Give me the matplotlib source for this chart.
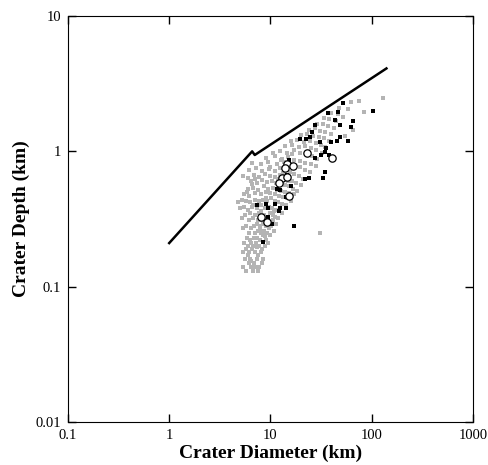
import matplotlib
matplotlib.use("Agg")
import matplotlib.pyplot as plt
from matplotlib.ticker import FixedLocator, FixedFormatter

plt.rcParams['font.family'] = ['Liberation Serif', 'DejaVu Serif']

# grey craters (diameter km, depth km)
grey_diam = [5.4, 5.8, 6.1, 6.4, 6.7, 7.1, 7.5, 5.6, 6.0, 6.3,
             6.9, 7.3, 7.8, 8.2, 5.3, 5.7, 6.2, 6.6, 7.0, 7.6,
             8.0, 8.5, 5.5, 6.0, 6.5, 6.8, 7.2, 7.7, 8.2, 8.8,
             5.9, 6.3, 6.9, 7.4, 7.9, 8.4, 9.0, 9.4, 6.1, 7.0,
             7.6, 8.1, 8.7, 9.2, 9.8, 5.4, 5.8, 6.4, 6.9, 7.3,
             7.9, 8.5, 9.0, 9.6, 10.2, 6.1, 6.7, 7.5, 8.2, 8.9,
             9.4, 10.0, 10.7, 11.4, 5.6, 6.3, 7.0, 7.8, 8.6, 9.8,
             10.5, 11.2, 12.0, 5.0, 5.5, 6.0, 6.6, 7.3, 8.0, 8.8,
             9.6, 10.4, 11.3, 12.2, 13.1, 4.8, 5.2, 5.7, 6.3, 7.0,
             7.7, 8.5, 9.3, 10.1, 11.0, 12.0, 13.0, 14.2, 5.5, 6.2,
             7.0, 8.0, 9.0, 10.0, 11.0, 12.2, 13.4, 14.6, 16.0, 6.0,
             6.8, 7.6, 8.6, 9.5, 10.5, 11.6, 12.8, 14.0, 15.3, 17.0,
             6.4, 7.3, 8.3, 9.2, 10.4, 11.4, 12.6, 13.8, 15.2, 16.8,
             18.5, 5.4, 6.0, 6.9, 7.8, 8.8, 9.8, 11.0, 12.3, 13.6,
             15.0, 16.5, 18.0, 20.0, 6.2, 7.2, 8.3, 9.6, 11.0, 12.5,
             14.0, 15.6, 17.2, 19.0, 21.0, 6.6, 8.0, 9.5, 11.5, 13.5,
             15.5, 17.5, 19.5, 22.0, 24.5, 9.0, 11.0, 13.0, 15.0, 17.0,
             19.5, 22.0, 25.0, 28.0, 10.5, 12.5, 14.5, 17.0, 19.5, 22.5,
             25.5, 29.0, 14.0, 16.5, 19.0, 22.0, 25.0, 28.5, 32.0, 16.0,
             18.5, 21.5, 24.5, 28.0, 31.5, 35.0, 20.0, 23.0, 26.5, 30.0,
             34.0, 38.0, 24.0, 27.5, 31.0, 35.0, 40.0, 29.0, 33.0, 37.0,
             42.0, 34.0, 38.0, 44.0, 40.0, 46.0, 52.0, 48.0, 58.0, 75.0,
             62.0, 130.0, 85.0, 31.0, 55.0, 66.0,
             6.5, 7.4, 8.9, 5.2, 7.9, 10.8, 9.1, 6.6, 11.8, 13.2,
             8.1, 5.9, 7.1, 9.9, 12.7, 16.2, 10.9, 8.4, 6.8, 14.8]
grey_depth = [0.14, 0.13, 0.15, 0.14, 0.13, 0.14, 0.13, 0.16, 0.17, 0.16,
              0.15, 0.16, 0.14, 0.15, 0.18, 0.19, 0.18, 0.19, 0.18, 0.17,
              0.18, 0.16, 0.21, 0.20, 0.21, 0.20, 0.21, 0.20, 0.19, 0.20,
              0.23, 0.22, 0.23, 0.23, 0.22, 0.24, 0.22, 0.21, 0.25, 0.25,
              0.26, 0.25, 0.26, 0.25, 0.24, 0.27, 0.28, 0.27, 0.28, 0.29,
              0.28, 0.29, 0.28, 0.27, 0.28, 0.31, 0.32, 0.31, 0.31, 0.32,
              0.31, 0.30, 0.31, 0.29, 0.34, 0.35, 0.34, 0.35, 0.34, 0.35,
              0.34, 0.33, 0.32, 0.38, 0.39, 0.37, 0.39, 0.38, 0.40, 0.38,
              0.39, 0.38, 0.37, 0.36, 0.35, 0.42, 0.44, 0.43, 0.42, 0.44,
              0.43, 0.44, 0.43, 0.45, 0.43, 0.42, 0.41, 0.40, 0.48, 0.47,
              0.49, 0.48, 0.50, 0.49, 0.48, 0.47, 0.46, 0.45, 0.43, 0.53,
              0.54, 0.52, 0.55, 0.53, 0.54, 0.52, 0.51, 0.50, 0.49, 0.48,
              0.60, 0.58, 0.61, 0.59, 0.60, 0.58, 0.57, 0.56, 0.55, 0.53,
              0.51, 0.66, 0.64, 0.67, 0.65, 0.68, 0.66, 0.65, 0.67, 0.63,
              0.62, 0.60, 0.58, 0.56, 0.73, 0.75, 0.72, 0.74, 0.72, 0.75,
              0.73, 0.70, 0.68, 0.66, 0.63, 0.82, 0.80, 0.83, 0.81, 0.84,
              0.80, 0.78, 0.76, 0.73, 0.70, 0.90, 0.92, 0.88, 0.91, 0.87,
              0.85, 0.82, 0.80, 0.78, 0.98, 1.00, 0.97, 1.02, 0.98, 0.95,
              0.92, 0.88, 1.10, 1.12, 1.08, 1.10, 1.05, 1.02, 0.98, 1.20,
              1.22, 1.18, 1.20, 1.15, 1.12, 1.08, 1.32, 1.35, 1.30, 1.28,
              1.25, 1.20, 1.45, 1.48, 1.42, 1.40, 1.35, 1.60, 1.58, 1.55,
              1.50, 1.75, 1.72, 1.68, 1.92, 1.88, 1.80, 2.10, 2.05, 2.35,
              2.30, 2.50, 1.95, 0.25, 1.30, 1.45,
              0.155, 0.195, 0.235, 0.32, 0.265, 0.36, 0.45, 0.57, 0.62, 0.69,
              0.36, 0.50, 0.62, 0.77, 0.86, 0.95, 0.26, 0.30, 0.40, 0.60]

# black craters
black_diam = [52, 103, 36.7, 46.8, 43, 66, 48.5, 63, 27.5, 26,
              19.5, 22.5, 24.5, 30.7, 40, 45, 58, 48.5, 35.5, 34.6,
              27.5, 31.4, 37.5, 15.3, 21.9, 23.9, 32.8, 35, 14.6, 13.3,
              12.2, 11.7, 12.4, 15.8, 14.4, 11.1, 7.3, 9.0, 9.5, 12.4,
              14.1, 12.1, 10.3, 17.1, 8.4, 9.5]
black_depth = [2.26, 1.99, 1.91, 1.96, 1.70, 1.68, 1.56, 1.52, 1.56, 1.40,
               1.23, 1.24, 1.28, 1.18, 1.18, 1.19, 1.19, 1.27, 1.05, 0.99,
               0.90, 0.94, 0.94, 0.87, 0.63, 0.64, 0.64, 0.70, 0.67, 0.63,
               0.56, 0.53, 0.52, 0.55, 0.46, 0.41, 0.40, 0.41, 0.38, 0.38,
               0.38, 0.36, 0.29, 0.28, 0.214, 0.33]

# open circles
circ_diam = [23, 40.5, 14.7, 16.6, 12.9, 14.6, 12.1, 15.3, 8.1, 9.3, 13.8]
circ_depth = [0.97, 0.90, 0.81, 0.78, 0.64, 0.65, 0.58, 0.47, 0.33, 0.30, 0.75]

# upper envelope line
line_diam = [1.0, 6.6, 7.0, 140]
line_depth = [0.21, 1.0, 0.94, 4.1]

fig = plt.figure(figsize=(4.89, 4.65), dpi=100)
ax = fig.add_axes([0.139, 0.0925, 0.828, 0.873])

ax.scatter(grey_diam, grey_depth, s=9, marker='s', color='#b4b4b4', linewidths=0)
ax.plot(line_diam, line_depth, color='black', lw=1.8)
ax.scatter(black_diam, black_depth, s=9, marker='s', color='black', linewidths=0)
ax.scatter(circ_diam, circ_depth, s=28, marker='o', facecolor='white',
           edgecolor='black', linewidths=0.9, zorder=3)

ax.set_xscale('log')
ax.set_yscale('log')
ax.set_xlim(0.1, 1000)
ax.set_ylim(0.01, 10)

ax.xaxis.set_major_locator(FixedLocator([0.1, 1, 10, 100, 1000]))
ax.xaxis.set_major_formatter(FixedFormatter(['0.1', '1', '10', '100', '1000']))
ax.yaxis.set_major_locator(FixedLocator([0.01, 0.1, 1, 10]))
ax.yaxis.set_major_formatter(FixedFormatter(['0.01', '0.1', '1', '10']))
ax.minorticks_off()
ax.tick_params(direction='in', length=6, width=1, top=True, right=True,
               labelsize=10.5, pad=5)

ax.set_xlabel('Crater Diameter (km)', fontsize=14, fontweight='bold', labelpad=2)
ax.set_ylabel('Crater Depth (km)', fontsize=14, fontweight='bold', labelpad=4)

fig.savefig('out.png', dpi=100)
